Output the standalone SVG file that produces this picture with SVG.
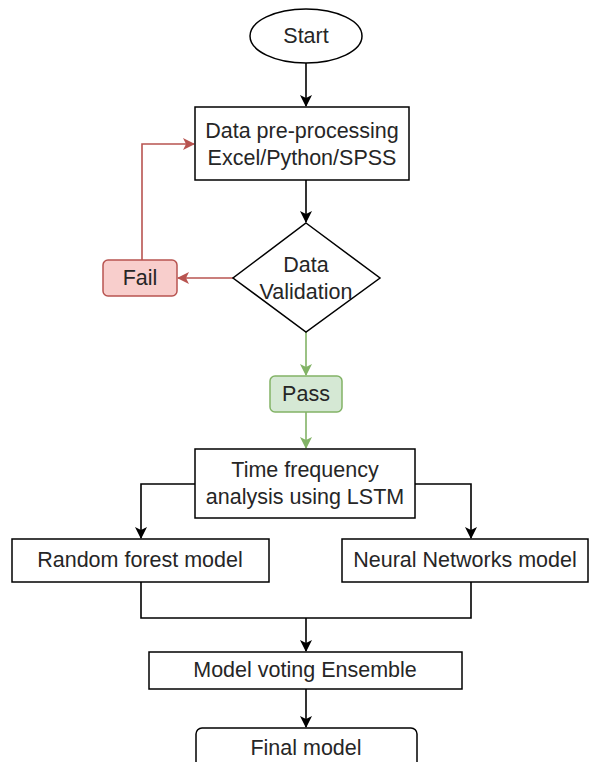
<svg xmlns="http://www.w3.org/2000/svg" width="592" height="762" viewBox="0 0 592 762">
<style>
.n{fill:#fff;stroke:#000;stroke-width:1.5}
.t{font-family:"Liberation Sans",Arial,sans-serif;font-size:21.5px;fill:#262626;text-anchor:middle;dominant-baseline:central}
.c{fill:none;stroke:#000;stroke-width:1.6}
.red{stroke:#b85450}
.grn{stroke:#82b366}
</style>
<defs>
<marker id="ab" viewBox="0 0 12 12" refX="11" refY="6" markerWidth="13" markerHeight="12" markerUnits="userSpaceOnUse" orient="auto"><path d="M0,0 L12,6 L0,12 L3,6 Z" fill="#000"/></marker>
<marker id="ar" viewBox="0 0 12 12" refX="11" refY="6" markerWidth="13" markerHeight="12" markerUnits="userSpaceOnUse" orient="auto"><path d="M0,0 L12,6 L0,12 L3,6 Z" fill="#b85450"/></marker>
<marker id="ag" viewBox="0 0 12 12" refX="11" refY="6" markerWidth="13" markerHeight="12" markerUnits="userSpaceOnUse" orient="auto"><path d="M0,0 L12,6 L0,12 L3,6 Z" fill="#82b366"/></marker>
</defs>
<rect width="592" height="762" fill="#fff"/>
<g id="connectors">
<path class="c" d="M306,63 V106" marker-end="url(#ab)"/>
<path class="c" d="M306,180 V222" marker-end="url(#ab)"/>
<path class="c red" d="M233,278 H178" marker-end="url(#ar)"/>
<path class="c red" d="M142,260 V144 H194" marker-end="url(#ar)"/>
<path class="c grn" d="M306,332 V375" marker-end="url(#ag)"/>
<path class="c grn" d="M306,412 V448" marker-end="url(#ag)"/>
<path class="c" d="M195,484 H141 V538" marker-end="url(#ab)"/>
<path class="c" d="M415,484 H471 V538" marker-end="url(#ab)"/>
<path class="c" d="M141,582 V618 H471 V582"/>
<path class="c" d="M306,618 V651" marker-end="url(#ab)"/>
<path class="c" d="M306,689 V727" marker-end="url(#ab)"/>
</g>
<g id="start"><ellipse class="n" cx="306" cy="36" rx="56" ry="27"/><text class="t" x="306" y="36">Start</text></g>
<g id="preprocess"><rect class="n" x="195" y="107" width="214" height="73"/><text class="t" x="302" y="131">Data pre-processing</text><text class="t" x="302" y="158">Excel/Python/SPSS</text></g>
<g id="validation"><path class="n" d="M306,223 L380,278 L306,332 L233,278 Z"/><text class="t" x="306" y="265">Data</text><text class="t" x="306" y="292">Validation</text></g>
<g id="fail"><rect x="103" y="260" width="74" height="36" rx="5" fill="#f8cecc" stroke="#b85450" stroke-width="1.5"/><text class="t" x="140" y="278">Fail</text></g>
<g id="pass"><rect x="270" y="376" width="72" height="36" rx="5" fill="#d5e8d4" stroke="#82b366" stroke-width="1.5"/><text class="t" x="306" y="394">Pass</text></g>
<g id="timefreq"><rect class="n" x="195" y="449" width="220" height="69"/><text class="t" x="305" y="470">Time frequency</text><text class="t" x="305" y="497">analysis using LSTM</text></g>
<g id="randomforest"><rect class="n" x="12" y="539" width="257" height="43"/><text class="t" x="140" y="560">Random forest model</text></g>
<g id="neural"><rect class="n" x="342" y="539" width="246" height="43"/><text class="t" x="465" y="560">Neural Networks model</text></g>
<g id="voting"><rect class="n" x="149" y="652" width="313" height="37"/><text class="t" x="305" y="670">Model voting Ensemble</text></g>
<g id="final"><rect class="n" x="196" y="728" width="221" height="60" rx="6"/><text class="t" x="306" y="748">Final model</text></g>
</svg>
